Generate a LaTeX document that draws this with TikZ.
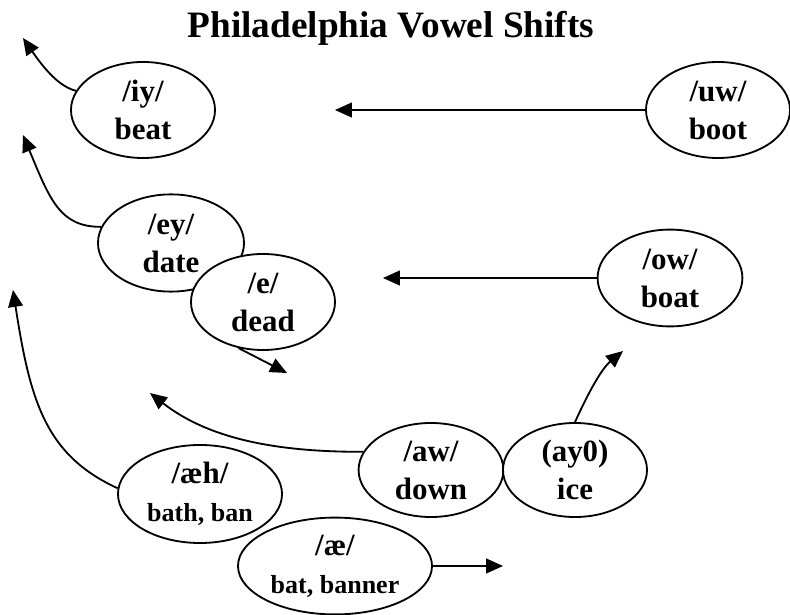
\documentclass[tikz,border=0pt]{standalone}
\usepackage{fontspec}
\setmainfont{Liberation Serif}
\usetikzlibrary{shapes.geometric,arrows.meta}
\begin{document}
\begin{tikzpicture}[x=0.025cm,y=-0.025cm]

      \tikzset{vowel/.style={draw, ellipse, fill=white, inner sep=0pt, line width=1.3pt, align=center, font=\fontsize{22}{27}\selectfont\bfseries}}
      \tikzset{vshift/.style={line width=1.3pt, -{Triangle[length=12pt,width=10.5pt]}}}
      \useasboundingbox (0,0) rectangle (790,615);

% Title
      	\node[font=\fontsize{26.5}{30}\selectfont\bfseries] (title) at (391,28) {Philadelphia Vowel Shifts};

% Vowels
	%Upper row
      	\node[vowel, minimum width=3.6cm, minimum height=2.4cm] (iy) at (143,110) {/iy/\\beat};
      	\node[vowel, minimum width=3.6cm, minimum height=2.4cm] (uw) at (718,110) {/uw/\\boot};
      	\node[vowel, minimum width=3.65cm, minimum height=2.43cm] (ey) at (171,243) {/ey/\\date};
      	\node[vowel, minimum width=3.6cm, minimum height=2.4cm] (e) at (263,302) {/e/\\dead};
      	\node[vowel, minimum width=3.62cm, minimum height=2.42cm] (ow) at (670,278) {/ow/\\boat};

	%Lower row
      	\node[vowel, minimum width=3.62cm, minimum height=2.35cm] (aw) at (431,470) {/aw/\\down};
      	\node[vowel, minimum width=3.6cm, minimum height=2.35cm] (ay) at (575,470) {(ay0)\\ice};
      	\node[vowel, minimum width=4.1cm, minimum height=2.45cm] (aeh) at (200,494) {/æh/\\{\fontsize{18.5}{20}\selectfont bath, ban}};
      	\node[vowel, minimum width=4.85cm, minimum height=2.42cm] (ae) at (335,566) {/æ/\\{\fontsize{18.5}{20}\selectfont bat, banner}};

% Shift ends
      	\coordinate (iyend) at (23,38);
      	\coordinate (uwend) at (335,110);
      	\coordinate (eyend) at (23,135);
      	\coordinate (eend) at (287,373);
      	\coordinate (owend) at (383,278);
      	\coordinate (awend) at (150,393);
      	\coordinate (ayend) at (623,351);
      	\coordinate (aehend) at (13,290);
      	\coordinate (aeend) at (503,566);

% Shifts
		\draw[vshift] (iy.164) .. controls (60,87) and (45,70) .. (iyend);
		\draw[vshift] (uw.west) -- (uwend);
		\draw[vshift] (ey.167) .. controls (60,227) and (50,200) .. (eyend);
		\draw[vshift] (e.242) -- (eend);
		\draw[vshift] (ow.west) -- (owend);
		\draw[vshift] (aw.165) .. controls (280,452) and (210,440) .. (awend);
		\draw[vshift] (ay.north) .. controls (585,400) and (600,370) .. (ayend);
		\draw[vshift] (aeh.176) .. controls (45,455) and (30,400) .. (aehend);
		\draw[vshift] (ae.east) -- (aeend);

	\end{tikzpicture}
\end{document}
